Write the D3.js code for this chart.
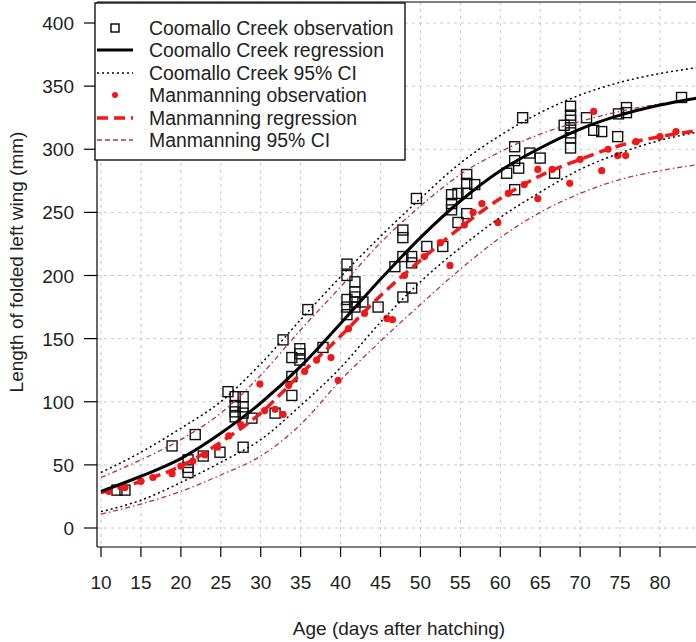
<!DOCTYPE html>
<html>
<head>
<meta charset="utf-8">
<script src="https://cdn.jsdelivr.net/npm/d3@7"></script>
<style>
  body { margin: 0; background: #fff; }
  svg { display: block; font-family: "Liberation Sans", Arial, sans-serif; }
</style>
</head>
<body>
<svg width="696" height="642"></svg>
<script>
var ages = [10, 15, 20, 25, 30, 35, 40, 45, 50, 55, 60, 65, 70, 75, 80, 85];

// Coomallo Creek fit + 95% CI
var coomalloFit   = [29, 41, 55, 75, 99, 128, 162, 197, 230, 259, 283, 301, 316, 327, 335, 341];
var coomalloUpper = [44, 60, 79, 100, 130, 165, 199, 231, 261, 289, 311, 329, 343, 353, 360, 365];
var coomalloLower = [13, 22, 36, 52, 70, 97, 127, 163, 195, 222, 246, 266, 284, 297, 307, 314];

// Manmanning fit + 95% CI
var manFit   = [28, 37, 49, 68, 91, 122, 152, 184, 212, 238, 261, 279, 292, 303, 310, 315];
var manUpper = [40, 54, 70, 91, 121, 157, 191, 226, 255, 280, 298, 312, 322, 330, 336, 341];
var manLower = [11, 19, 29, 42, 57, 82, 117, 148, 177, 205, 230, 250, 265, 276, 283, 288];

// observations [age, wing length]
var coomalloObs = [
  [12, 30], [13, 30], [18.9, 65], [20.9, 54], [20.9, 48], [20.9, 44], [21.8, 74], [22.8, 57],
  [24.9, 60], [25.9, 108], [26.8, 104], [26.8, 97], [26.8, 92], [26.8, 88], [27.8, 104],
  [27.8, 96], [27.8, 91], [27.8, 64], [28.9, 87], [31.8, 91], [32.8, 149], [33.9, 135],
  [33.9, 120], [33.9, 105], [34.9, 142], [34.9, 138], [34.9, 133], [35.9, 173], [37.8, 143],
  [40.8, 209], [40.8, 200], [40.8, 181], [40.8, 175], [40.8, 169], [41.8, 195], [41.8, 187],
  [41.8, 183], [41.8, 179], [41.8, 175], [42.8, 179], [44.7, 175], [46.8, 207], [47.8, 236],
  [47.8, 230], [47.8, 215], [47.8, 183], [48.9, 215], [48.9, 210], [48.9, 190], [49.5, 261],
  [50.8, 223], [52.8, 223], [53.9, 264], [53.9, 257], [53.9, 252], [54.7, 265], [54.7, 242],
  [55.8, 280], [55.8, 273], [55.8, 265], [55.8, 249], [56.8, 272], [60.8, 281], [61.8, 302],
  [61.8, 291], [61.8, 268], [62.3, 285], [62.8, 325], [63.7, 297], [65, 293], [66.8, 281],
  [68.8, 334], [68.8, 327], [68.8, 323], [68, 319], [68.8, 317], [68.8, 313], [68.8, 309],
  [68.8, 301], [70.8, 325], [71.7, 315], [72.7, 314], [74.8, 328], [75.8, 333], [75.8, 329],
  [74.7, 310], [82.7, 341]
];

var manObs = [
  [11, 29], [13, 32], [15, 37], [16.5, 40], [18.9, 43], [20, 49], [21.5, 53], [23, 58],
  [24.6, 64], [26, 73], [27.5, 82], [29.9, 114], [30.5, 93], [31.8, 94], [32.8, 90],
  [33.5, 113], [35.5, 124], [37, 133], [38.8, 135], [39.7, 117], [41, 158], [43, 170],
  [45.8, 166], [46.5, 165], [48, 200], [50.5, 215], [52.5, 226], [53.7, 208], [55.5, 240],
  [56.6, 250], [57.7, 257], [59.7, 242], [61, 265], [63, 272], [64.7, 261], [64.7, 284],
  [66.5, 284], [68.7, 273], [70, 292], [71.7, 330], [72.7, 283], [73.5, 300], [74.7, 295],
  [75.7, 295], [77, 306], [80, 310], [82, 314]
];

var xTicks = [10, 15, 20, 25, 30, 35, 40, 45, 50, 55, 60, 65, 70, 75, 80];
var yTicks = [0, 50, 100, 150, 200, 250, 300, 350, 400];

var legendLabels = [
  "Coomallo Creek observation",
  "Coomallo Creek regression",
  "Coomallo Creek 95% CI",
  "Manmanning observation",
  "Manmanning regression",
  "Manmanning 95% CI"
];

var ciRed = "#b8304c";

var svg = d3.select("svg");
// plot box edges (avoid the name "top", it is window.top)
var boxL = 97, boxT = 2, boxR = 696, boxB = 547;

var x = d3.scaleLinear().domain([10, 80]).range([101, 660]);
var y = d3.scaleLinear().domain([0, 400]).range([528, 23]);

svg.append("defs").append("clipPath").attr("id", "plotclip")
  .append("rect").attr("x", boxL).attr("y", boxT)
  .attr("width", boxR - boxL).attr("height", boxB - boxT);

// grid
var grid = svg.append("g").attr("stroke", "#c8c8c8").attr("stroke-dasharray", "3,4");
grid.selectAll("line.gx").data(xTicks).enter().append("line")
  .attr("x1", function(d){ return x(d); }).attr("x2", function(d){ return x(d); })
  .attr("y1", boxT).attr("y2", boxB);
grid.selectAll("line.gy").data(yTicks).enter().append("line")
  .attr("y1", function(d){ return y(d); }).attr("y2", function(d){ return y(d); })
  .attr("x1", boxL).attr("x2", boxR);

var plot = svg.append("g").attr("clip-path", "url(#plotclip)");

// observations
plot.selectAll("rect.obs").data(coomalloObs).enter().append("rect")
  .attr("x", function(d){ return x(d[0]) - 5; })
  .attr("y", function(d){ return y(d[1]) - 5; })
  .attr("width", 10).attr("height", 10)
  .attr("fill", "none").attr("stroke", "#111").attr("stroke-width", 1.4);

plot.selectAll("circle.obs").data(manObs).enter().append("circle")
  .attr("cx", function(d){ return x(d[0]); })
  .attr("cy", function(d){ return y(d[1]); })
  .attr("r", 3.6).attr("fill", "#f01818");

// curves
var line = d3.line()
  .x(function(d){ return x(d[0]); })
  .y(function(d){ return y(d[1]); })
  .curve(d3.curveMonotoneX);

function curve(vals, color, width, dash){
  var pts = ages.map(function(a, i){ return [a, vals[i]]; });
  var p = plot.append("path").datum(pts)
    .attr("d", line).attr("fill", "none")
    .attr("stroke", color).attr("stroke-width", width);
  if (dash) p.attr("stroke-dasharray", dash);
}

curve(manUpper, ciRed, 1.3, "5,3,1.5,3");
curve(manLower, ciRed, 1.3, "5,3,1.5,3");
curve(coomalloUpper, "#000", 1.5, "2,3");
curve(coomalloLower, "#000", 1.5, "2,3");
curve(manFit, "#f01818", 3.5, "11,6");
curve(coomalloFit, "#000", 3, null);

// axes
var axes = svg.append("g").attr("stroke", "#000").attr("stroke-width", 1.2);
axes.append("line").attr("x1", boxL).attr("x2", boxL).attr("y1", boxT).attr("y2", boxB);
axes.append("line").attr("x1", boxL).attr("x2", boxR).attr("y1", boxB).attr("y2", boxB);
axes.append("line").attr("x1", boxL).attr("x2", boxR).attr("y1", boxT).attr("y2", boxT);

axes.selectAll("line.tx").data(xTicks).enter().append("line")
  .attr("x1", function(d){ return x(d); }).attr("x2", function(d){ return x(d); })
  .attr("y1", boxB).attr("y2", boxB + 10);
axes.selectAll("line.ty").data(yTicks).enter().append("line")
  .attr("y1", function(d){ return y(d); }).attr("y2", function(d){ return y(d); })
  .attr("x1", boxL - 13).attr("x2", boxL);

svg.selectAll("text.tx").data(xTicks).enter().append("text")
  .attr("x", function(d){ return x(d); }).attr("y", 589)
  .attr("text-anchor", "middle").attr("font-size", 19).attr("fill", "#222")
  .text(function(d){ return d; });
svg.selectAll("text.ty").data(yTicks).enter().append("text")
  .attr("x", 74).attr("y", function(d){ return y(d) + 7; })
  .attr("text-anchor", "end").attr("font-size", 19).attr("fill", "#222")
  .text(function(d){ return d; });

svg.append("text").attr("x", 399).attr("y", 635)
  .attr("text-anchor", "middle").attr("font-size", 19).attr("fill", "#222")
  .text("Age (days after hatching)");
svg.append("text").attr("transform", "translate(23,262) rotate(-90)")
  .attr("text-anchor", "middle").attr("font-size", 19).attr("fill", "#222")
  .text("Length of folded left wing (mm)");

// legend
var lg = svg.append("g");
lg.append("rect").attr("x", 95).attr("y", 3).attr("width", 310).attr("height", 157)
  .attr("fill", "#fff").attr("stroke", "#000").attr("stroke-width", 1.3);
var rowY = [28, 50, 73, 95, 118, 140];
lg.selectAll("text").data(legendLabels).enter().append("text")
  .attr("x", 149).attr("y", function(d, i){ return rowY[i] + 7; })
  .attr("font-size", 19.4).attr("fill", "#222")
  .text(function(d){ return d; });
lg.append("rect").attr("x", 111).attr("y", rowY[0] - 4).attr("width", 8).attr("height", 8)
  .attr("fill", "none").attr("stroke", "#000").attr("stroke-width", 1.4);
lg.append("line").attr("x1", 97).attr("x2", 133).attr("y1", rowY[1]).attr("y2", rowY[1])
  .attr("stroke", "#000").attr("stroke-width", 3);
lg.append("line").attr("x1", 97).attr("x2", 133).attr("y1", rowY[2]).attr("y2", rowY[2])
  .attr("stroke", "#000").attr("stroke-width", 1.3).attr("stroke-dasharray", "2,3");
lg.append("circle").attr("cx", 115).attr("cy", rowY[3]).attr("r", 3).attr("fill", "#f01818");
lg.append("line").attr("x1", 97).attr("x2", 133).attr("y1", rowY[4]).attr("y2", rowY[4])
  .attr("stroke", "#f01818").attr("stroke-width", 3.5).attr("stroke-dasharray", "11,6");
lg.append("line").attr("x1", 97).attr("x2", 133).attr("y1", rowY[5]).attr("y2", rowY[5])
  .attr("stroke", ciRed).attr("stroke-width", 1.3).attr("stroke-dasharray", "5,3");
</script>
</body>
</html>
